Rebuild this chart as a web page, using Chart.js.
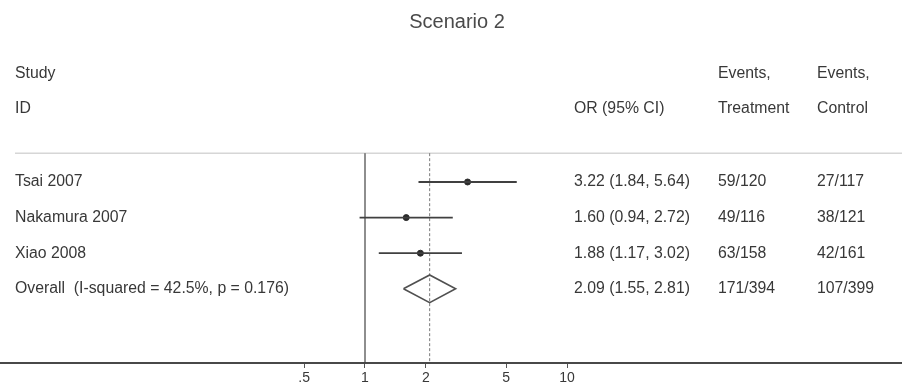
<!DOCTYPE html>
<html>
<head>
<meta charset="utf-8">
<title>Scenario 2</title>
<script src="https://cdn.jsdelivr.net/npm/chart.js@4.4.1/dist/chart.umd.min.js"></script>
<style>
  html, body { margin: 0; padding: 0; background: #ffffff; }
  #wrap { width: 902px; height: 385px; }
</style>
</head>
<body>
<div id="wrap"><canvas id="forest" width="902" height="385"></canvas></div>
<script>
// Study-level results (odds ratios with 95% CI) and event counts
const studies = ['Tsai 2007', 'Nakamura 2007', 'Xiao 2008'];
const oddsRatio = [3.22, 1.60, 1.88];
const ciLow = [1.84, 0.94, 1.17];
const ciHigh = [5.64, 2.72, 3.02];
const eventsTreatment = ['59/120', '49/116', '63/158'];
const eventsControl = ['27/117', '38/121', '42/161'];

// Pooled estimate
const overallLabel = 'Overall  (I-squared = 42.5%, p = 0.176)';
const overallOR = 2.09;
const overallLow = 1.55;
const overallHigh = 2.81;
const overallTreatment = '171/394';
const overallControl = '107/399';

// Axis ticks
const tickValues = [0.5, 1, 2, 5, 10];
const tickLabels = ['.5', '1', '2', '5', '10'];

const title = 'Scenario 2';
const headers = { study: 'Study', id: 'ID', or: 'OR (95% CI)', events: 'Events,', treat: 'Treatment', ctrl: 'Control' };

// ---- layout constants (rows are 1..n, overall is n+1) ----
const overallRow = studies.length + 1;
const Y_MIN = -4.112, Y_MAX = 6.084;      // row-unit extent of the plot area
const X_MIN = Math.pow(10, -365 / 202);   // log-scale extent of the plot area
const X_MAX = Math.pow(10, (902 - 365) / 202);
const RULE_ROW = 0.19;                    // header separator
const DIAMOND_HALF = 0.39;

const FONT = '"Liberation Sans", Arial, Helvetica, sans-serif';
const INK = '#383838';

const datasets = [];

// confidence intervals
studies.forEach((s, i) => {
  datasets.push({
    type: 'line',
    label: s + ' CI',
    data: [{ x: ciLow[i], y: i + 1 }, { x: ciHigh[i], y: i + 1 }],
    borderColor: '#404040',
    borderWidth: 1.8,
    pointRadius: 0,
    showLine: true
  });
});

// point estimates
datasets.push({
  type: 'scatter',
  label: 'OR',
  data: oddsRatio.map((v, i) => ({ x: v, y: i + 1 })),
  backgroundColor: '#2a2a2a',
  borderColor: '#2a2a2a',
  pointRadius: 3,
  showLine: false
});

// pooled diamond
datasets.push({
  type: 'line',
  label: 'Overall',
  data: [
    { x: overallLow, y: overallRow },
    { x: overallOR, y: overallRow - DIAMOND_HALF },
    { x: overallHigh, y: overallRow },
    { x: overallOR, y: overallRow + DIAMOND_HALF },
    { x: overallLow, y: overallRow }
  ],
  borderColor: '#505050',
  borderWidth: 1.6,
  pointRadius: 0,
  showLine: true,
  tension: 0
});

// line of no effect
datasets.push({
  type: 'line',
  label: 'null',
  data: [{ x: 1, y: RULE_ROW }, { x: 1, y: Y_MAX }],
  borderColor: '#444444',
  borderWidth: 1.2,
  pointRadius: 0,
  showLine: true
});

// pooled estimate reference line
datasets.push({
  type: 'line',
  label: 'pooled',
  data: [{ x: overallOR, y: RULE_ROW }, { x: overallOR, y: Y_MAX }],
  borderColor: '#7a7a7a',
  borderWidth: 1,
  borderDash: [3, 2],
  pointRadius: 0,
  showLine: true
});

// text columns and header rule
const tablePlugin = {
  id: 'forestTable',
  beforeDatasetsDraw(chart) {
    const ctx = chart.ctx;
    const y = chart.scales.y.getPixelForValue(RULE_ROW);
    ctx.save();
    ctx.strokeStyle = '#d6d6d6';
    ctx.lineWidth = 1.5;
    ctx.beginPath();
    ctx.moveTo(15, y);
    ctx.lineTo(902, y);
    ctx.stroke();
    ctx.restore();
  },
  afterDraw(chart) {
    const ctx = chart.ctx;
    const ys = chart.scales.y;
    const colStudy = 15, colOR = 574, colT = 718, colC = 817;
    ctx.save();
    ctx.fillStyle = INK;
    ctx.textBaseline = 'middle';

    ctx.font = '20px ' + FONT;
    ctx.textAlign = 'center';
    ctx.fillStyle = '#4a4a4a';
    ctx.fillText(title, 457, ys.getPixelForValue(-3.49));

    ctx.fillStyle = INK;
    ctx.textAlign = 'left';
    ctx.font = '15.8px ' + FONT;
    const h1 = ys.getPixelForValue(-2.05), h2 = ys.getPixelForValue(-1.07);
    ctx.fillText(headers.study, colStudy, h1);
    ctx.fillText(headers.id, colStudy, h2);
    ctx.fillText(headers.or, colOR, h2);
    ctx.fillText(headers.events, colT, h1);
    ctx.fillText(headers.treat, colT, h2);
    ctx.fillText(headers.events, colC, h1);
    ctx.fillText(headers.ctrl, colC, h2);

    const fmt = (v) => v.toFixed(2);
    studies.forEach((s, i) => {
      const py = ys.getPixelForValue(i + 1);
      ctx.fillText(s, colStudy, py);
      ctx.fillText(fmt(oddsRatio[i]) + ' (' + fmt(ciLow[i]) + ', ' + fmt(ciHigh[i]) + ')', colOR, py);
      ctx.fillText(eventsTreatment[i], colT, py);
      ctx.fillText(eventsControl[i], colC, py);
    });
    const po = ys.getPixelForValue(overallRow);
    ctx.fillText(overallLabel, colStudy, po);
    ctx.fillText(fmt(overallOR) + ' (' + fmt(overallLow) + ', ' + fmt(overallHigh) + ')', colOR, po);
    ctx.fillText(overallTreatment, colT, po);
    ctx.fillText(overallControl, colC, po);
    ctx.restore();
  }
};

new Chart(document.getElementById('forest'), {
  type: 'scatter',
  data: { datasets },
  options: {
    responsive: false,
    animation: false,
    events: [],
    layout: { padding: 0, autoPadding: false },
    plugins: { legend: { display: false }, tooltip: { enabled: false }, title: { display: false } },
    scales: {
      x: {
        type: 'logarithmic',
        position: 'bottom',
        min: X_MIN,
        max: X_MAX,
        bounds: 'data',
        grid: { display: true, drawOnChartArea: false, drawTicks: true, tickLength: 5, color: '#555555', lineWidth: 1 },
        border: { display: true, color: '#484848', width: 2 },
        ticks: {
          autoSkip: false,
          maxRotation: 0,
          padding: 2,
          color: INK,
          font: { family: FONT, size: 14 },
          callback: (value) => {
            const k = tickValues.indexOf(value);
            return k >= 0 ? tickLabels[k] : '';
          }
        },
        afterBuildTicks: (scale) => { scale.ticks = tickValues.map(v => ({ value: v })); },
        afterFit: (scale) => { scale.height = 22; }
      },
      y: {
        type: 'linear',
        display: false,
        reverse: true,
        min: Y_MIN,
        max: Y_MAX
      }
    }
  },
  plugins: [tablePlugin]
});
</script>
</body>
</html>
